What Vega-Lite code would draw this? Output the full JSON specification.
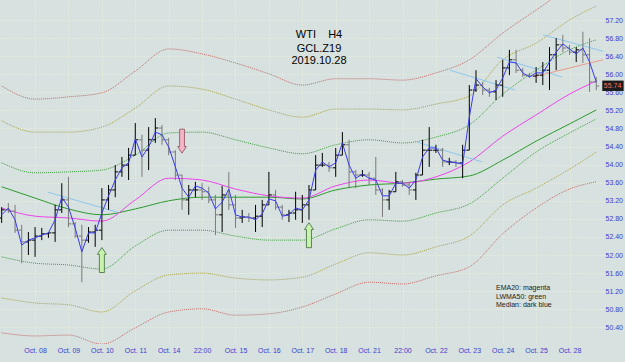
{
  "$schema": "https://vega.github.io/schema/vega-lite/v6.json",
  "width": 604,
  "height": 344,
  "autosize": {"type": "none"},
  "padding": {"left": 0, "top": 0, "right": 21, "bottom": 18},
  "background": "#d7e1df",
  "config": {
    "view": {"stroke": null, "fill": "#d7e1df"},
    "font": "Liberation Sans",
    "axis": {
      "domain": false,
      "ticks": false,
      "labelOverlap": false,
      "labelFlush": false,
      "labelBound": false,
      "labelFont": "Liberation Sans",
      "labelFontSize": 7,
      "labelColor": "#3c3cd0",
      "gridColor": "#eef1d8",
      "gridDash": [1, 2],
      "gridWidth": 1,
      "gridOpacity": 1
    }
  },
  "datasets": {
    "bars": [
      {"i":0,"o":52.82,"h":53.06,"l":52.71,"c":53.00,"m":52.89},
      {"i":1,"o":53.00,"h":53.15,"l":52.93,"c":52.97,"m":53.04},
      {"i":2,"o":52.97,"h":53.11,"l":52.49,"c":52.55,"m":52.78},
      {"i":3,"o":52.55,"h":52.67,"l":51.82,"c":52.29,"m":52.22},
      {"i":4,"o":52.29,"h":52.51,"l":52.00,"c":52.33,"m":52.33},
      {"i":5,"o":52.33,"h":52.62,"l":51.96,"c":52.42,"m":52.38},
      {"i":6,"o":52.42,"h":52.60,"l":52.33,"c":52.47,"m":52.44},
      {"i":7,"o":52.47,"h":52.51,"l":52.38,"c":52.49,"m":52.49},
      {"i":8,"o":52.49,"h":53.11,"l":52.29,"c":53.00,"m":52.78},
      {"i":9,"o":53.00,"h":53.59,"l":52.93,"c":53.22,"m":53.28},
      {"i":10,"o":53.22,"h":53.73,"l":52.62,"c":52.69,"m":53.06},
      {"i":11,"o":52.69,"h":52.73,"l":52.38,"c":52.42,"m":52.60},
      {"i":12,"o":52.42,"h":52.67,"l":51.40,"c":52.33,"m":52.07},
      {"i":13,"o":52.33,"h":52.62,"l":52.27,"c":52.51,"m":52.49},
      {"i":14,"o":52.51,"h":52.67,"l":52.18,"c":52.55,"m":52.49},
      {"i":15,"o":52.55,"h":53.48,"l":52.33,"c":53.22,"m":52.93},
      {"i":16,"o":53.22,"h":53.55,"l":53.00,"c":53.44,"m":53.31},
      {"i":17,"o":53.44,"h":53.99,"l":53.28,"c":53.84,"m":53.66},
      {"i":18,"o":53.84,"h":54.17,"l":53.73,"c":53.99,"m":53.93},
      {"i":19,"o":53.99,"h":54.37,"l":53.66,"c":54.21,"m":54.04},
      {"i":20,"o":54.21,"h":54.92,"l":54.21,"c":54.55,"m":54.57},
      {"i":21,"o":54.55,"h":54.66,"l":53.73,"c":54.32,"m":54.17},
      {"i":22,"o":54.32,"h":54.83,"l":53.88,"c":54.55,"m":54.39},
      {"i":23,"o":54.55,"h":55.03,"l":54.48,"c":54.81,"m":54.72},
      {"i":24,"o":54.81,"h":54.88,"l":54.44,"c":54.55,"m":54.66},
      {"i":25,"o":54.55,"h":54.59,"l":54.21,"c":54.28,"m":54.39},
      {"i":26,"o":54.28,"h":54.32,"l":53.66,"c":53.77,"m":53.95},
      {"i":27,"o":53.77,"h":53.77,"l":53.00,"c":53.22,"m":53.48},
      {"i":28,"o":53.22,"h":53.55,"l":52.89,"c":53.44,"m":53.28},
      {"i":29,"o":53.44,"h":53.62,"l":53.28,"c":53.44,"m":53.53},
      {"i":30,"o":53.44,"h":53.59,"l":53.22,"c":53.40,"m":53.48},
      {"i":31,"o":53.40,"h":53.51,"l":53.15,"c":53.22,"m":53.37},
      {"i":32,"o":53.22,"h":53.33,"l":52.44,"c":52.89,"m":53.02},
      {"i":33,"o":52.89,"h":53.53,"l":52.51,"c":53.33,"m":53.17},
      {"i":34,"o":53.33,"h":53.84,"l":53.00,"c":53.11,"m":53.46},
      {"i":35,"o":53.11,"h":53.33,"l":52.60,"c":52.82,"m":52.89},
      {"i":36,"o":52.82,"h":53.00,"l":52.71,"c":52.84,"m":52.84},
      {"i":37,"o":52.84,"h":52.93,"l":52.73,"c":52.82,"m":52.84},
      {"i":38,"o":52.82,"h":53.11,"l":52.51,"c":52.86,"m":52.78},
      {"i":39,"o":52.86,"h":53.22,"l":52.62,"c":53.11,"m":52.91},
      {"i":40,"o":53.11,"h":53.84,"l":53.11,"c":53.33,"m":53.24},
      {"i":41,"o":53.33,"h":53.44,"l":53.00,"c":53.06,"m":53.20},
      {"i":42,"o":53.06,"h":53.11,"l":52.78,"c":52.89,"m":52.86},
      {"i":43,"o":52.89,"h":53.00,"l":52.73,"c":52.93,"m":52.89},
      {"i":44,"o":52.93,"h":53.40,"l":52.78,"c":53.00,"m":53.04},
      {"i":45,"o":53.00,"h":53.33,"l":52.71,"c":53.11,"m":53.00},
      {"i":46,"o":53.11,"h":53.55,"l":52.78,"c":53.44,"m":53.22},
      {"i":47,"o":53.44,"h":54.21,"l":53.44,"c":53.99,"m":53.88},
      {"i":48,"o":53.99,"h":54.26,"l":53.95,"c":53.99,"m":54.06},
      {"i":49,"o":53.99,"h":54.06,"l":53.84,"c":53.93,"m":53.95},
      {"i":50,"o":53.93,"h":54.37,"l":53.73,"c":54.21,"m":54.04},
      {"i":51,"o":54.21,"h":54.72,"l":54.21,"c":54.44,"m":54.48},
      {"i":52,"o":54.44,"h":54.55,"l":53.48,"c":53.84,"m":53.99},
      {"i":53,"o":53.84,"h":53.88,"l":53.48,"c":53.77,"m":53.70},
      {"i":54,"o":53.77,"h":53.88,"l":53.73,"c":53.77,"m":53.79},
      {"i":55,"o":53.77,"h":53.84,"l":53.55,"c":53.70,"m":53.70},
      {"i":56,"o":53.70,"h":54.17,"l":53.33,"c":53.44,"m":53.66},
      {"i":57,"o":53.44,"h":53.48,"l":52.84,"c":53.22,"m":53.31},
      {"i":58,"o":53.22,"h":53.44,"l":53.00,"c":53.40,"m":53.31},
      {"i":59,"o":53.40,"h":53.84,"l":53.40,"c":53.62,"m":53.59},
      {"i":60,"o":53.62,"h":53.66,"l":53.51,"c":53.55,"m":53.59},
      {"i":61,"o":53.55,"h":53.62,"l":53.33,"c":53.44,"m":53.48},
      {"i":62,"o":53.44,"h":53.82,"l":53.22,"c":53.77,"m":53.66},
      {"i":63,"o":53.77,"h":54.55,"l":53.77,"c":54.32,"m":54.17},
      {"i":64,"o":54.32,"h":54.83,"l":53.95,"c":54.32,"m":54.37},
      {"i":65,"o":54.32,"h":54.44,"l":54.26,"c":54.32,"m":54.37},
      {"i":66,"o":54.32,"h":54.37,"l":53.95,"c":54.06,"m":54.10},
      {"i":67,"o":54.06,"h":54.15,"l":53.99,"c":54.06,"m":54.06},
      {"i":68,"o":54.06,"h":54.10,"l":53.95,"c":54.04,"m":54.04},
      {"i":69,"o":54.04,"h":54.44,"l":53.70,"c":54.32,"m":54.01},
      {"i":70,"o":54.32,"h":55.76,"l":54.32,"c":55.65,"m":55.05},
      {"i":71,"o":55.65,"h":56.09,"l":55.61,"c":55.76,"m":55.90},
      {"i":72,"o":55.76,"h":55.83,"l":55.54,"c":55.65,"m":55.72},
      {"i":73,"o":55.65,"h":55.70,"l":55.50,"c":55.61,"m":55.59},
      {"i":74,"o":55.61,"h":55.87,"l":55.43,"c":55.76,"m":55.65},
      {"i":75,"o":55.76,"h":56.32,"l":55.50,"c":56.14,"m":55.92},
      {"i":76,"o":56.14,"h":56.54,"l":55.98,"c":56.32,"m":56.27},
      {"i":77,"o":56.32,"h":56.54,"l":56.03,"c":56.09,"m":56.25},
      {"i":78,"o":56.09,"h":56.14,"l":55.94,"c":55.98,"m":56.03},
      {"i":79,"o":55.98,"h":56.03,"l":55.92,"c":55.96,"m":55.94},
      {"i":80,"o":55.96,"h":56.16,"l":55.81,"c":55.98,"m":56.03},
      {"i":81,"o":55.98,"h":56.27,"l":55.76,"c":56.09,"m":56.03},
      {"i":82,"o":56.09,"h":56.60,"l":55.65,"c":56.43,"m":56.27},
      {"i":83,"o":56.43,"h":56.80,"l":56.09,"c":56.65,"m":56.49},
      {"i":84,"o":56.65,"h":56.87,"l":56.49,"c":56.58,"m":56.67},
      {"i":85,"o":56.58,"h":56.65,"l":56.43,"c":56.49,"m":56.56},
      {"i":86,"o":56.49,"h":56.60,"l":56.27,"c":56.54,"m":56.45},
      {"i":87,"o":56.54,"h":56.94,"l":56.25,"c":56.43,"m":56.58},
      {"i":88,"o":56.43,"h":56.80,"l":55.61,"c":55.83,"m":56.27},
      {"i":89,"o":55.83,"h":55.94,"l":55.65,"c":55.74,"m":55.83}
    ],
    "bands": [
      {"i":0,"ur":55.74,"uo":54.97,"ug":54.04,"ema":53.04,"lwma":53.51,"lg":51.96,"lo":51.05,"lr":50.28},
      {"i":5,"ur":55.45,"uo":54.72,"ug":53.82,"ema":52.86,"lwma":53.26,"lg":51.82,"lo":50.94,"lr":50.21},
      {"i":10,"ur":55.50,"uo":54.72,"ug":53.84,"ema":52.82,"lwma":53.02,"lg":51.78,"lo":50.90,"lr":50.23},
      {"i":15,"ur":55.59,"uo":54.83,"ug":53.88,"ema":52.75,"lwma":52.89,"lg":51.69,"lo":50.74,"lr":50.03},
      {"i":20,"ur":56.07,"uo":55.25,"ug":54.21,"ema":53.22,"lwma":53.02,"lg":52.20,"lo":51.21,"lr":50.39},
      {"i":25,"ur":56.56,"uo":55.74,"ug":54.70,"ema":53.70,"lwma":53.20,"lg":52.55,"lo":51.56,"lr":50.74},
      {"i":30,"ur":56.45,"uo":55.67,"ug":54.72,"ema":53.66,"lwma":53.28,"lg":52.55,"lo":51.60,"lr":50.81},
      {"i":35,"ur":56.25,"uo":55.45,"ug":54.55,"ema":53.46,"lwma":53.28,"lg":52.42,"lo":51.49,"lr":50.67},
      {"i":40,"ur":56.01,"uo":55.21,"ug":54.37,"ema":53.31,"lwma":53.28,"lg":52.33,"lo":51.45,"lr":50.70},
      {"i":45,"ur":55.76,"uo":55.05,"ug":54.24,"ema":53.26,"lwma":53.24,"lg":52.33,"lo":51.51,"lr":50.85},
      {"i":50,"ur":55.90,"uo":55.23,"ug":54.44,"ema":53.53,"lwma":53.44,"lg":52.58,"lo":51.80,"lr":51.14},
      {"i":55,"ur":55.90,"uo":55.23,"ug":54.55,"ema":53.66,"lwma":53.55,"lg":52.78,"lo":52.05,"lr":51.40},
      {"i":60,"ur":55.87,"uo":55.21,"ug":54.48,"ema":53.59,"lwma":53.59,"lg":52.75,"lo":52.00,"lr":51.36},
      {"i":65,"ur":56.03,"uo":55.34,"ug":54.61,"ema":53.73,"lwma":53.68,"lg":52.93,"lo":52.18,"lr":51.54},
      {"i":70,"ur":56.32,"uo":55.52,"ug":54.88,"ema":54.06,"lwma":53.75,"lg":53.13,"lo":52.42,"lr":51.74},
      {"i":75,"ur":56.91,"uo":56.32,"ug":55.56,"ema":54.63,"lwma":54.10,"lg":53.70,"lo":53.11,"lr":52.47},
      {"i":80,"ur":57.42,"uo":56.69,"ug":56.09,"ema":55.10,"lwma":54.52,"lg":54.28,"lo":53.48,"lr":53.04},
      {"i":85,"ur":57.91,"uo":57.20,"ug":56.54,"ema":55.56,"lwma":54.90,"lg":54.70,"lo":53.90,"lr":53.46},
      {"i":89,"ur":58.20,"uo":57.51,"ug":56.76,"ema":55.85,"lwma":55.21,"lg":55.01,"lo":54.28,"lr":53.62}
    ],
    "trend": [
      {"kind":"channel","x1":6.93,"p1":53.39,"x2":17.26,"p2":52.95},
      {"kind":"channel","x1":62.17,"p1":54.50,"x2":71.9,"p2":54.06},
      {"kind":"channel","x1":67.11,"p1":56.09,"x2":76.84,"p2":55.65},
      {"kind":"channel","x1":74.15,"p1":56.38,"x2":83.88,"p2":55.94},
      {"kind":"channel","x1":81.03,"p1":56.87,"x2":90.0,"p2":56.51},
      {"kind":"support","x1":79.53,"p1":55.94,"x2":90.0,"p2":56.32}
    ],
    "arrowsUp": [
      {"i":15,"p":51.89},
      {"i":46,"p":52.44}
    ],
    "arrowsDown": [
      {"i":27,"p":54.52}
    ],
    "heading": [
      {"t":"WTI\u00a0\u00a0\u00a0\u00a0H4","i":47.5,"p":56.86},
      {"t":"GCL.Z19","i":47.5,"p":56.55},
      {"t":"2019.10.28","i":47.5,"p":56.29}
    ],
    "notes": [
      {"t":"EMA20: magenta","i":74.0,"p":51.27},
      {"t":"LWMA50: green","i":74.0,"p":51.08},
      {"t":"Median: dark blue","i":74.0,"p":50.90}
    ],
    "lastPrice": [
      {"t":"55.74","i":91.45,"x1":89.9,"x2":93.1,"p":55.74,"pTop":55.86,"pBottom":55.63}
    ]
  },
  "layer": [
    {
      "data": {"name": "bands"},
      "mark": {"type": "line", "color": "#c46a6a", "strokeWidth": 1, "strokeDash": [1, 1], "interpolate": "monotone", "clip": true},
      "encoding": {
        "x": {"field": "i", "type": "quantitative", "title": null, "scale": {"domain": [-0.25, 90.16], "nice": false, "zero": false},
          "axis": {"title": null, "values": [5,10,15,20,25,30,35,40,45,50,55,60,65,70,75,80,85], "tickCount": 60, "grid": true, "labelPadding": 2, "labelOverlap": false,
            "labelExpr": "['Oct. 08','Oct. 09','Oct. 10','Oct. 11','Oct. 14','22:00','Oct. 15','Oct. 16','Oct. 17','Oct. 18','Oct. 21','22:00','Oct. 22','Oct. 23','Oct. 24','Oct. 25','Oct. 28'][datum.value/5-1]"}},
        "y": {"field": "ur", "type": "quantitative", "title": null, "scale": {"domain": [50.032, 57.6425], "nice": false, "zero": false},
          "axis": {"title": null, "orient": "right", "values": [50.4,50.8,51.2,51.6,52.0,52.4,52.8,53.2,53.6,54.0,54.4,54.8,55.2,55.6,56.0,56.4,56.8,57.2], "tickCount": 60, "format": ".2f", "grid": true, "labelPadding": 1, "labelOverlap": false}}
      }
    },
    {
      "data": {"name": "bands"},
      "mark": {"type": "line", "color": "#a9a446", "strokeWidth": 1, "strokeDash": [1, 1], "interpolate": "monotone", "clip": true},
      "encoding": {
        "x": {"field": "i", "type": "quantitative", "title": null},
        "y": {"field": "uo", "type": "quantitative", "title": null}
      }
    },
    {
      "data": {"name": "bands"},
      "mark": {"type": "line", "color": "#3f9f3f", "strokeWidth": 1, "strokeDash": [1, 1], "interpolate": "monotone", "clip": true},
      "encoding": {
        "x": {"field": "i", "type": "quantitative", "title": null},
        "y": {"field": "ug", "type": "quantitative", "title": null}
      }
    },
    {
      "data": {"name": "bands"},
      "mark": {"type": "line", "color": "#3f9f3f", "strokeWidth": 1, "strokeDash": [1, 1], "interpolate": "monotone", "clip": true},
      "encoding": {
        "x": {"field": "i", "type": "quantitative", "title": null},
        "y": {"field": "lg", "type": "quantitative", "title": null}
      }
    },
    {
      "data": {"name": "bands"},
      "mark": {"type": "line", "color": "#a9a446", "strokeWidth": 1, "strokeDash": [1, 1], "interpolate": "monotone", "clip": true},
      "encoding": {
        "x": {"field": "i", "type": "quantitative", "title": null},
        "y": {"field": "lo", "type": "quantitative", "title": null}
      }
    },
    {
      "data": {"name": "bands"},
      "mark": {"type": "line", "color": "#c46a6a", "strokeWidth": 1, "strokeDash": [1, 1], "interpolate": "monotone", "clip": true},
      "encoding": {
        "x": {"field": "i", "type": "quantitative", "title": null},
        "y": {"field": "lr", "type": "quantitative", "title": null}
      }
    },
    {
      "data": {"name": "bands"},
      "mark": {"type": "line", "color": "#2e9a2e", "strokeWidth": 1, "interpolate": "monotone", "clip": true},
      "encoding": {
        "x": {"field": "i", "type": "quantitative", "title": null},
        "y": {"field": "lwma", "type": "quantitative", "title": null}
      }
    },
    {
      "data": {"name": "bands"},
      "mark": {"type": "line", "color": "#ee44ee", "strokeWidth": 1, "interpolate": "monotone", "clip": true},
      "encoding": {
        "x": {"field": "i", "type": "quantitative", "title": null},
        "y": {"field": "ema", "type": "quantitative", "title": null}
      }
    },
    {
      "data": {"name": "trend"},
      "mark": {"type": "rule", "strokeWidth": 1},
      "encoding": {
        "x": {"field": "x1", "type": "quantitative", "title": null},
        "x2": {"field": "x2"},
        "y": {"field": "p1", "type": "quantitative", "title": null},
        "y2": {"field": "p2"},
        "color": {"condition": {"test": "datum.kind == 'support'", "value": "#ee9a8a"}, "value": "#8ec8ee"}
      }
    },
    {
      "data": {"name": "bars"},
      "mark": {"type": "rule", "strokeWidth": 1},
      "encoding": {
        "x": {"field": "i", "type": "quantitative", "title": null},
        "y": {"field": "l", "type": "quantitative", "title": null},
        "y2": {"field": "h"},
        "color": {"condition": {"test": "datum.c < datum.o", "value": "#7a7a7a"}, "value": "#000000"}
      }
    },
    {
      "data": {"name": "bars"},
      "mark": {"type": "rule", "strokeWidth": 1, "xOffset": -3},
      "encoding": {
        "x": {"field": "i", "type": "quantitative", "title": null},
        "x2": {"field": "i"},
        "y": {"field": "o", "type": "quantitative", "title": null},
        "color": {"condition": {"test": "datum.c < datum.o", "value": "#7a7a7a"}, "value": "#000000"}
      }
    },
    {
      "data": {"name": "bars"},
      "mark": {"type": "rule", "strokeWidth": 1, "x2Offset": 3},
      "encoding": {
        "x": {"field": "i", "type": "quantitative", "title": null},
        "x2": {"field": "i"},
        "y": {"field": "c", "type": "quantitative", "title": null},
        "color": {"condition": {"test": "datum.c < datum.o", "value": "#7a7a7a"}, "value": "#000000"}
      }
    },
    {
      "data": {"name": "bars"},
      "mark": {"type": "line", "color": "#3a3aee", "strokeWidth": 1},
      "encoding": {
        "x": {"field": "i", "type": "quantitative", "title": null},
        "y": {"field": "m", "type": "quantitative", "title": null}
      }
    },
    {
      "data": {"name": "arrowsUp"},
      "mark": {"type": "point", "filled": true, "size": 625, "fill": "#c8f2ac", "stroke": "#3d6b3d", "strokeWidth": 0.8, "opacity": 1,
        "shape": "M0,-1L0.36,-0.45L0.2,-0.45L0.2,1L-0.2,1L-0.2,-0.45L-0.36,-0.45Z"},
      "encoding": {
        "x": {"field": "i", "type": "quantitative", "title": null},
        "y": {"field": "p", "type": "quantitative", "title": null}
      }
    },
    {
      "data": {"name": "arrowsDown"},
      "mark": {"type": "point", "filled": true, "size": 576, "fill": "#f6b6c8", "stroke": "#8a4a5a", "strokeWidth": 0.8, "opacity": 1,
        "shape": "M0,1L0.36,0.45L0.2,0.45L0.2,-1L-0.2,-1L-0.2,0.45L-0.36,0.45Z"},
      "encoding": {
        "x": {"field": "i", "type": "quantitative", "title": null},
        "y": {"field": "p", "type": "quantitative", "title": null}
      }
    },
    {
      "data": {"name": "heading"},
      "mark": {"type": "text", "font": "Liberation Sans", "fontSize": 11, "color": "#000000", "align": "center", "baseline": "middle"},
      "encoding": {
        "x": {"field": "i", "type": "quantitative", "title": null},
        "y": {"field": "p", "type": "quantitative", "title": null},
        "text": {"field": "t"}
      }
    },
    {
      "data": {"name": "notes"},
      "mark": {"type": "text", "font": "Liberation Sans", "fontSize": 7, "color": "#1a1a1a", "align": "left", "baseline": "middle"},
      "encoding": {
        "x": {"field": "i", "type": "quantitative", "title": null},
        "y": {"field": "p", "type": "quantitative", "title": null},
        "text": {"field": "t"}
      }
    },
    {
      "data": {"name": "lastPrice"},
      "mark": {"type": "rect", "color": "#1c1c1c"},
      "encoding": {
        "x": {"field": "x1", "type": "quantitative", "title": null},
        "x2": {"field": "x2"},
        "y": {"field": "pTop", "type": "quantitative", "title": null},
        "y2": {"field": "pBottom"}
      }
    },
    {
      "data": {"name": "lastPrice"},
      "mark": {"type": "text", "font": "Liberation Sans", "fontSize": 7, "color": "#ff7060", "align": "center", "baseline": "middle"},
      "encoding": {
        "x": {"field": "i", "type": "quantitative", "title": null},
        "y": {"field": "p", "type": "quantitative", "title": null},
        "text": {"field": "t"}
      }
    }
  ]
}
